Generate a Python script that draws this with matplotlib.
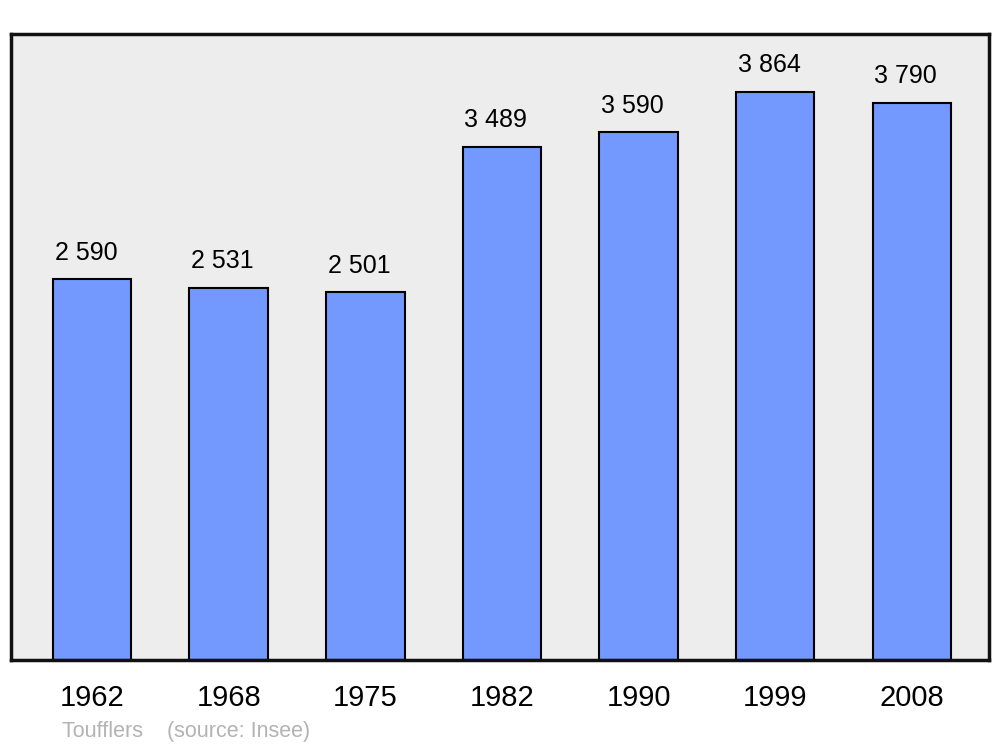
import matplotlib
matplotlib.use('Agg')
import matplotlib.pyplot as plt

years = ['1962', '1968', '1975', '1982', '1990', '1999', '2008']
population = [2590, 2531, 2501, 3489, 3590, 3864, 3790]
labels = ['2 590', '2 531', '2 501', '3 489', '3 590', '3 864', '3 790']

plt.rcParams['font.family'] = ['Liberation Sans', 'DejaVu Sans']

fig = plt.figure(figsize=(10, 7.47), dpi=100)
ax = fig.add_axes([0.011, 1 - 660/747, 0.978, 626/747])
ax.set_facecolor('#ededed')
xs = list(range(len(years)))
ax.bar(xs, population, width=0.575, color='#7399ff', edgecolor='black', linewidth=1.5, zorder=2)
for x, v, t in zip(xs, population, labels):
    ax.text(x - 0.044, v + 100, t, ha='center', va='bottom', fontsize=18)
ax.set_xlim(-0.593, 6.565)
ax.set_ylim(0, 4259)
ax.set_xticks(xs)
ax.set_xticklabels(years, fontsize=21)
ax.tick_params(axis='x', length=0, pad=17)
ax.set_yticks([])
for s in ax.spines.values():
    s.set_linewidth(2.5)
    s.set_color('#111111')
fig.text(0.062, 1 - 731/747, 'Toufflers    (source: Insee)', fontsize=15.5, color='#b3b3b3', va='center')
fig.savefig('out.png', dpi=100)
